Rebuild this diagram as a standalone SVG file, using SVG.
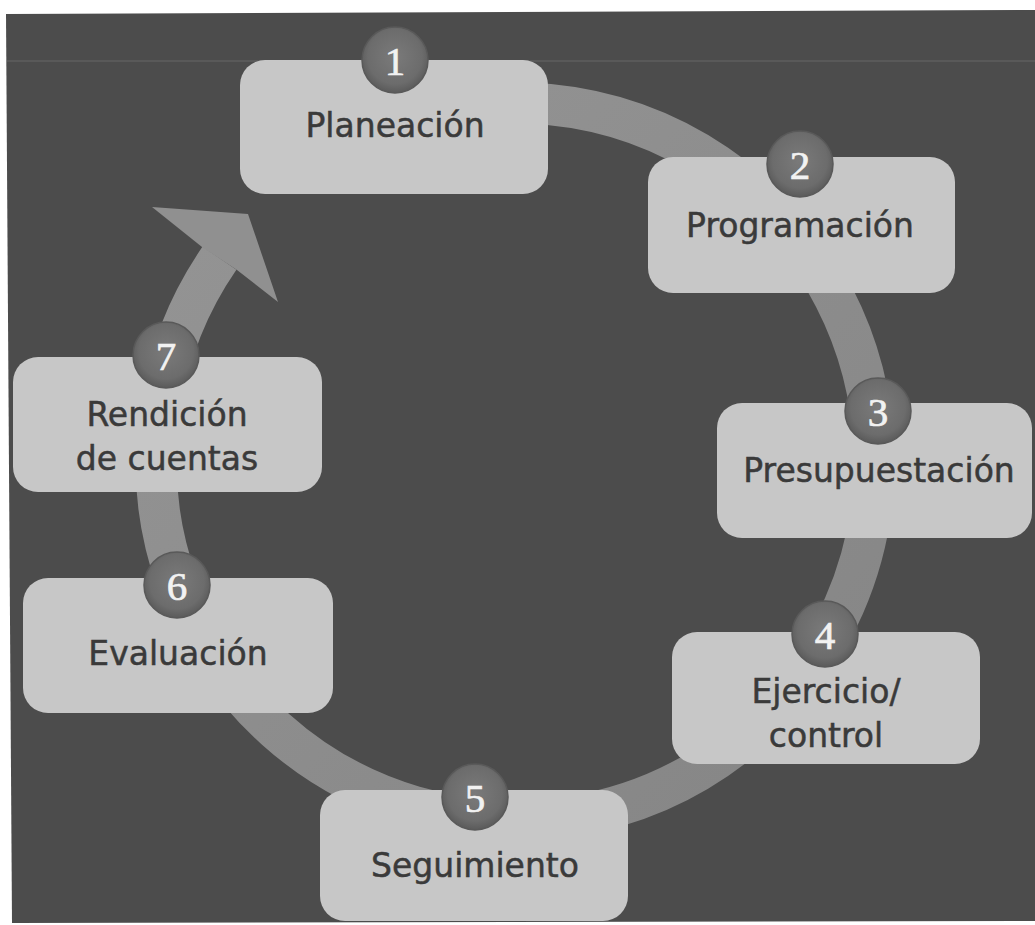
<svg xmlns="http://www.w3.org/2000/svg" width="1035" height="925" viewBox="0 0 1035 925">
  <defs>
    <radialGradient id="badge" cx="50%" cy="45%" r="55%">
      <stop offset="0" stop-color="#7a7a7a"/>
      <stop offset="0.75" stop-color="#6c6c6c"/>
      <stop offset="1" stop-color="#5a5a5a"/>
    </radialGradient>
    <linearGradient id="ringGrad" x1="0" y1="0" x2="1" y2="1">
      <stop offset="0" stop-color="#959595"/>
      <stop offset="1" stop-color="#858585"/>
    </linearGradient>
  </defs>
  <style>
    .box { fill: #c7c7c7; }
    .badge { fill: url(#badge); stroke: #595959; stroke-width: 1.5; }
    .num { font-family: "Liberation Serif", "DejaVu Serif", serif; font-size: 41px; fill: #f2f2f2; stroke: #f2f2f2; stroke-width: 0.7; text-anchor: middle; }
    .lbl { font-family: "DejaVu Sans", "Liberation Sans", sans-serif; font-size: 33px; fill: #3a3a3a; stroke: #3a3a3a; stroke-width: 0.5; text-anchor: middle; }
    .ring { fill: none; stroke: url(#ringGrad); stroke-width: 41; }
    .head { fill: #909090; }
  </style>

  <rect x="0" y="0" width="1035" height="925" fill="#ffffff"/>
  <polygon points="6,14 1035,10 1035,921 12,923" fill="#4c4c4c"/>
  <line x1="7" y1="61" x2="1035" y2="61" stroke="#5e5e5e" stroke-width="1.5"/>

  <g id="connectors">
    <path class="ring" d="M 392.2 124.6 A 359 359 0 1 1 219.5 258.2"/>
    <polygon class="head" points="202,247 152,207 248,214 278,302 237,270"/>
  </g>

  <g id="node1">
    <rect class="box" x="240" y="60" width="308" height="134" rx="25"/>
    <circle class="badge" cx="395" cy="60" r="33"/>
    <text class="num" x="395" y="75">1</text>
    <text class="lbl" x="395" y="137">Planeación</text>
  </g>

  <g id="node2">
    <rect class="box" x="648" y="157" width="307" height="136" rx="25"/>
    <circle class="badge" cx="800" cy="164" r="33"/>
    <text class="num" x="800" y="179">2</text>
    <text class="lbl" x="800" y="237">Programación</text>
  </g>

  <g id="node3">
    <rect class="box" x="717" y="403" width="315" height="135" rx="25"/>
    <circle class="badge" cx="878" cy="411" r="33"/>
    <text class="num" x="878" y="426">3</text>
    <text class="lbl" x="879" y="482">Presupuestación</text>
  </g>

  <g id="node4">
    <rect class="box" x="672" y="632" width="308" height="132" rx="25"/>
    <circle class="badge" cx="825" cy="634" r="33"/>
    <text class="num" x="825" y="649">4</text>
    <text class="lbl" x="826" y="703">Ejercicio/</text>
    <text class="lbl" x="826" y="747">control</text>
  </g>

  <g id="node5">
    <rect class="box" x="320" y="790" width="308" height="131" rx="25"/>
    <circle class="badge" cx="475" cy="797" r="33"/>
    <text class="num" x="475" y="812">5</text>
    <text class="lbl" x="475" y="877">Seguimiento</text>
  </g>

  <g id="node6">
    <rect class="box" x="23" y="578" width="310" height="135" rx="25"/>
    <circle class="badge" cx="177" cy="585" r="33"/>
    <text class="num" x="177" y="600">6</text>
    <text class="lbl" x="178" y="665">Evaluación</text>
  </g>

  <g id="node7">
    <rect class="box" x="13" y="357" width="309" height="135" rx="25"/>
    <circle class="badge" cx="166" cy="355" r="33"/>
    <text class="num" x="166" y="370">7</text>
    <text class="lbl" x="167" y="426">Rendición</text>
    <text class="lbl" x="167" y="470">de cuentas</text>
  </g>
</svg>
